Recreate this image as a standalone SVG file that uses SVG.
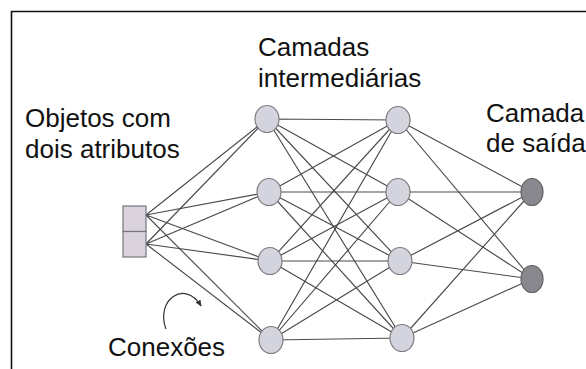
<svg xmlns="http://www.w3.org/2000/svg" width="586" height="369" viewBox="0 0 586 369">
  <style>
    .lbl { font-family: "Liberation Sans", Arial, sans-serif; font-size: 26px; fill: #111; }
    .hid { fill: #d4d4de; stroke: #7c7c80; stroke-width: 1.2; }
    .out { fill: #88888e; stroke: #636367; stroke-width: 1.2; }
    .inp { fill: #dad3de; stroke: #76767a; stroke-width: 1.2; }
    .edge { stroke: #4a4a4a; stroke-width: 1.15; fill: none; }
  </style>
  <defs>
    <marker id="tip" viewBox="0 0 10 10" refX="8" refY="5" markerWidth="6" markerHeight="6" orient="auto">
      <path d="M0,1 L9,5 L0,9 Z" fill="#333"/>
    </marker>
  </defs>
  <rect width="586" height="369" fill="#fff"/>
  <!-- frame -->
  <path d="M11.5,369 V11.5 H586" fill="none" stroke="#111" stroke-width="1.6"/>

  <!-- connectors -->
  <g id="connectors" class="edge">
    <!-- input -> hidden 1 -->
    <path d="M146,215 L267,119 M146,215 L269,192 M146,215 L270,261 M146,215 L271,340"/>
    <path d="M146,244 L267,119 M146,244 L269,192 M146,244 L270,261 M146,244 L271,340"/>
    <!-- hidden 1 -> hidden 2 -->
    <path d="M267,119 L398,120 M267,119 L398,192 M267,119 L400,261 M267,119 L402,338"/>
    <path d="M269,192 L398,120 M269,192 L398,192 M269,192 L400,261 M269,192 L402,338"/>
    <path d="M270,261 L398,120 M270,261 L398,192 M270,261 L400,261 M270,261 L402,338"/>
    <path d="M271,340 L398,120 M271,340 L398,192 M271,340 L400,261 M271,340 L402,338"/>
    <!-- hidden 2 -> output -->
    <path d="M398,120 L532,192 M398,120 L532,279"/>
    <path d="M398,192 L532,192 M398,192 L532,279"/>
    <path d="M400,261 L532,192 M400,261 L532,279"/>
    <path d="M402,338 L532,192 M402,338 L532,279"/>
    <!-- curved pointer -->
    <path d="M166,329 C155,300 185,279 201,306" stroke="#333" stroke-width="1.2" marker-end="url(#tip)"/>
  </g>

  <!-- input attributes -->
  <g id="input">
    <rect class="inp" x="123" y="206" width="23" height="25.5"/>
    <rect class="inp" x="123" y="231.5" width="23" height="25.5"/>
  </g>

  <!-- first hidden layer -->
  <g id="h1-1"><ellipse class="hid" cx="267" cy="119" rx="12" ry="13.5"/></g>
  <g id="h1-2"><ellipse class="hid" cx="269" cy="192" rx="12" ry="13.5"/></g>
  <g id="h1-3"><ellipse class="hid" cx="270" cy="261" rx="12" ry="13.5"/></g>
  <g id="h1-4"><ellipse class="hid" cx="271" cy="340" rx="12" ry="13.5"/></g>

  <!-- second hidden layer -->
  <g id="h2-1"><ellipse class="hid" cx="398" cy="120" rx="12" ry="13.5"/></g>
  <g id="h2-2"><ellipse class="hid" cx="398" cy="192" rx="12" ry="13.5"/></g>
  <g id="h2-3"><ellipse class="hid" cx="400" cy="261" rx="12" ry="13.5"/></g>
  <g id="h2-4"><ellipse class="hid" cx="402" cy="338" rx="12" ry="13.5"/></g>

  <!-- output layer -->
  <g id="o-1"><ellipse class="out" cx="532" cy="192" rx="11" ry="13.5"/></g>
  <g id="o-2"><ellipse class="out" cx="532" cy="279" rx="11" ry="13.5"/></g>

  <!-- labels -->
  <g id="labels">
    <text class="lbl" x="258" y="56">Camadas</text>
    <text class="lbl" x="258" y="87">intermediárias</text>
    <text class="lbl" x="25" y="127">Objetos com</text>
    <text class="lbl" x="25" y="158">dois atributos</text>
    <text class="lbl" x="486" y="122">Camada</text>
    <text class="lbl" x="486" y="152">de saída</text>
    <text class="lbl" x="108" y="356">Conexões</text>
  </g>
</svg>
